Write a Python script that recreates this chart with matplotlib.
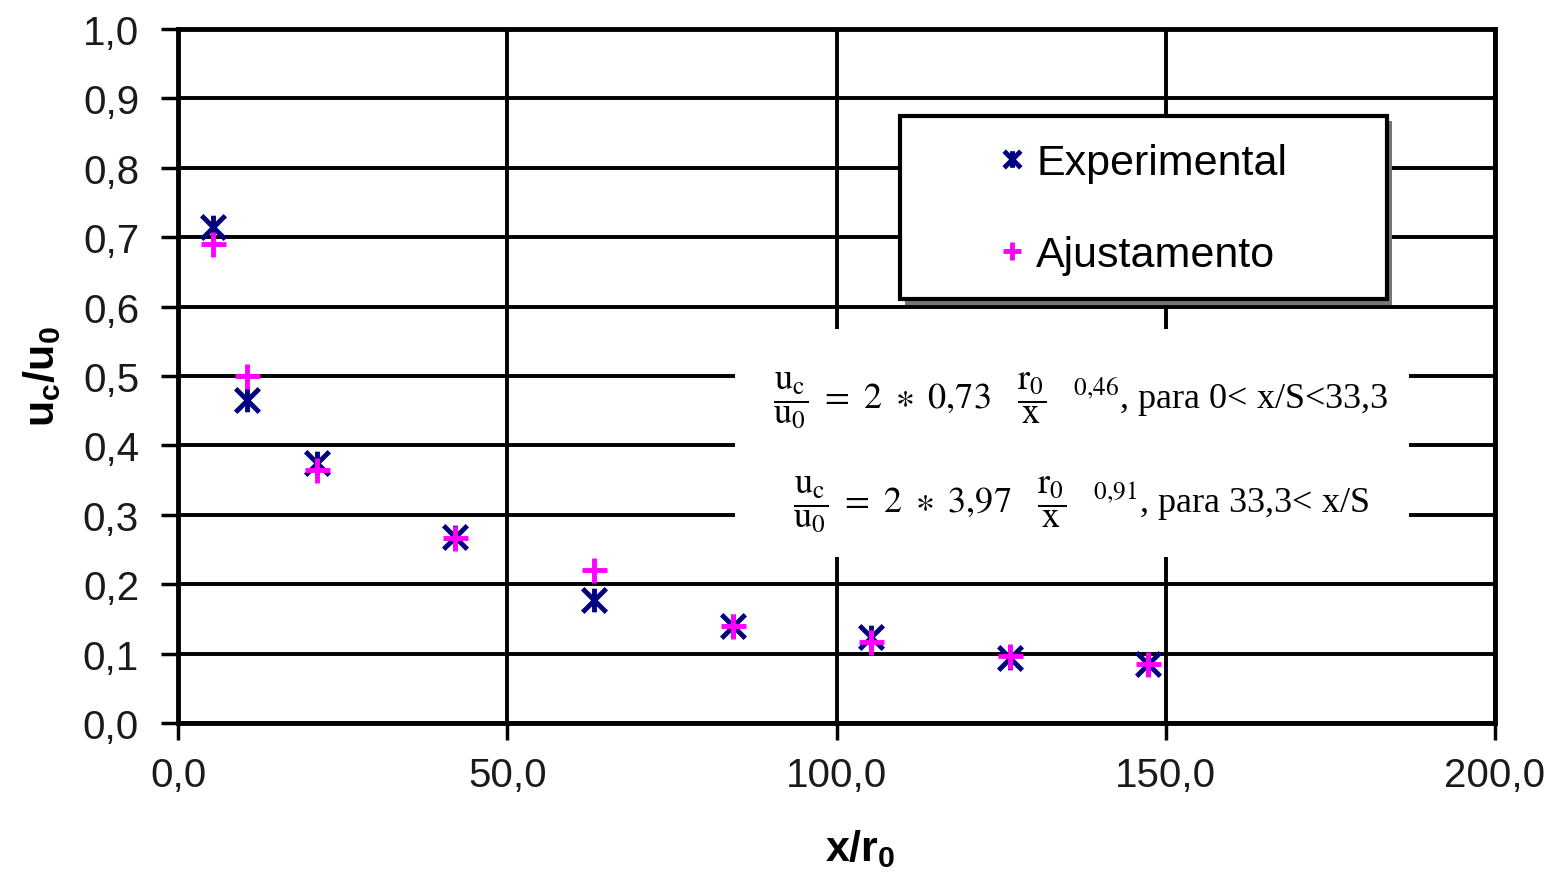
import matplotlib
matplotlib.use("Agg")
import matplotlib.pyplot as plt
from matplotlib.path import Path
from matplotlib.patches import Rectangle
from matplotlib.lines import Line2D
from matplotlib.ticker import FixedLocator, FixedFormatter

# ---- data ----
x_r0 = [5.26, 10.53, 21.05, 42.11, 63.16, 84.21, 105.26, 126.32, 147.37]
experimental = [0.714, 0.466, 0.375, 0.268, 0.177, 0.140, 0.124, 0.094, 0.085]
ajustamento = [0.690, 0.500, 0.365, 0.266, 0.221, 0.140, 0.116, 0.096, 0.085]
x_ticks = [0.0, 50.0, 100.0, 150.0, 200.0]
x_tick_labels = ["0,0", "50,0", "100,0", "150,0", "200,0"]
y_ticks = [0.0, 0.1, 0.2, 0.3, 0.4, 0.5, 0.6, 0.7, 0.8, 0.9, 1.0]
y_tick_labels = ["0,0", "0,1", "0,2", "0,3", "0,4", "0,5", "0,6", "0,7", "0,8", "0,9", "1,0"]
series_names = ["Experimental", "Ajustamento"]
eq1 = (r'$\dfrac{\mathrm{u_c}}{\mathrm{u_0}}\ =\ 2\ \ast\ 0{,}73\ \ \ '
       r'\dfrac{\mathrm{r_0}}{\mathrm{x}}^{\ \ \ \ 0{,}46}$, para 0< x/S<33,3')
eq2 = (r'$\dfrac{\mathrm{u_c}}{\mathrm{u_0}}\ =\ 2\ \ast\ 3{,}97\ \ \ '
       r'\dfrac{\mathrm{r_0}}{\mathrm{x}}^{\ \ \ \ 0{,}91}$, para 33,3< x/S')

plt.rcParams['font.family'] = ['Liberation Sans', 'DejaVu Sans']
plt.rcParams['mathtext.fontset'] = 'custom'
plt.rcParams['mathtext.rm'] = 'Liberation Sans'
plt.rcParams['mathtext.it'] = 'Liberation Sans'
plt.rcParams['mathtext.bf'] = 'Liberation Sans:bold'

# asterisk marker (X plus vertical bar)
star = Path([(-1, -1), (1, 1), (-1, 1), (1, -1), (0, -1), (0, 1)],
            [Path.MOVETO, Path.LINETO, Path.MOVETO, Path.LINETO, Path.MOVETO, Path.LINETO])

NAVY = '#000080'
MAG = '#FF00FF'

fig = plt.figure(figsize=(15.6, 8.78), dpi=100)
ax = fig.add_axes([178/1560, 1 - 724/878, (1495-178)/1560, (724-30)/878])

ax.plot(x_r0, experimental, linestyle='none', marker=star, ms=17, mew=3.5,
        color=NAVY, zorder=5, label=series_names[0])
ax.plot(x_r0, ajustamento, linestyle='none', marker='+', ms=18, mew=3.5,
        color=MAG, zorder=6, label=series_names[1])

ax.set_xlim(0, 200)
ax.set_ylim(0, 1.0)
ax.xaxis.set_major_locator(FixedLocator(x_ticks))
ax.xaxis.set_major_formatter(FixedFormatter(x_tick_labels))
ax.yaxis.set_major_locator(FixedLocator(y_ticks))
ax.yaxis.set_major_formatter(FixedFormatter(y_tick_labels))
ax.tick_params(axis='both', direction='out', length=12, width=2.5, color='black',
               labelsize=29, labelcolor='#1a1a1a')
ax.tick_params(axis='y', pad=16)
ax.tick_params(axis='x', pad=12)

ax.grid(True, color='black', lw=2.8, zorder=1)
ax.set_axisbelow(True)
for sp in ax.spines.values():
    sp.set_linewidth(3.5)
    sp.set_color('black')
    sp.set_zorder(7)

ax.set_ylabel(r'$\mathbf{u_c/u_0}$', fontsize=31, labelpad=14)
ax.set_xlabel(r'$\mathbf{x/r_0}$', fontsize=31)
ax.xaxis.set_label_coords(0.518, -0.150)

# equation box
ax.add_patch(Rectangle((0.423, 0.239), 0.512, 0.329, transform=ax.transAxes,
                       facecolor='white', edgecolor='none', zorder=3))
ax.text(0.6856, 0.455, eq1, transform=ax.transAxes, ha='center', va='baseline',
        fontsize=26, family='Liberation Serif', math_fontfamily='stix', zorder=4)
ax.text(0.686, 0.306, eq2, transform=ax.transAxes, ha='center', va='baseline',
        fontsize=26, family='Liberation Serif', math_fontfamily='stix', zorder=4)

# legend box with shadow
lx0, ly0, lw_, lh_ = 0.548, 0.611, 0.370, 0.264
ax.add_patch(Rectangle((lx0 + 0.004, ly0 - 0.008), lw_, lh_, transform=ax.transAxes,
                       facecolor='#777777', edgecolor='none', zorder=8))
ax.add_patch(Rectangle((lx0, ly0), lw_, lh_, transform=ax.transAxes,
                       facecolor='white', edgecolor='black', lw=3, zorder=9))
handles = [Line2D([], [], linestyle='none', marker=star, ms=12, mew=3.5, color=NAVY),
           Line2D([], [], linestyle='none', marker='+', ms=13, mew=3.5, color=MAG)]
leg = ax.legend(handles, series_names, loc='center', bbox_to_anchor=(0.733, 0.741),
                frameon=False, fontsize=31, handlelength=0.6, handletextpad=0.25,
                labelspacing=1.2, borderpad=0.2)
leg.set_zorder(10)

fig.savefig('out.png', dpi=100, facecolor='white')
